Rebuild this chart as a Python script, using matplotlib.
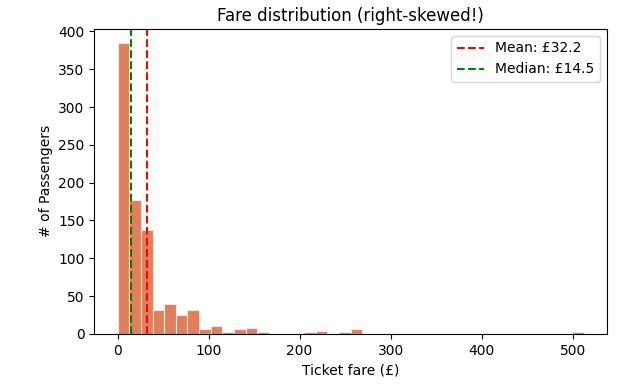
import numpy as np
import matplotlib.pyplot as plt

# Histogram of ticket fares, 40 bins from 0 to max fare
fare_max = 512.3292
n_bins = 40
counts = [384, 177, 138, 31, 40, 25, 31, 7, 11, 3, 7, 8, 2, 0, 0, 0,
          3, 4, 0, 2, 6, 0, 0, 0, 0, 0, 0, 0, 0, 0, 0, 0, 0, 0, 0, 0,
          0, 0, 0, 3]
mean_fare = 32.2042
median_fare = 14.4542

edges = np.linspace(0, fare_max, n_bins + 1)

fig, ax = plt.subplots(figsize=(6.24, 3.86), dpi=100)
ax.bar(edges[:-1], counts, width=np.diff(edges), align='edge',
       color='#e07f5c', edgecolor='#f5e6df', linewidth=0.8)
ax.axvline(mean_fare, color='red', linestyle='--', label=f'Mean: £{mean_fare:.1f}')
ax.axvline(median_fare, color='green', linestyle='--', label=f'Median: £{median_fare:.1f}')
ax.set_title('Fare distribution (right-skewed!)')
ax.set_xlabel('Ticket fare (£)')
ax.set_ylabel('# of Passengers')
ax.legend(loc='upper right')
fig.subplots_adjust(left=0.151, right=0.973, top=0.925, bottom=0.135)
fig.savefig('out.png')
